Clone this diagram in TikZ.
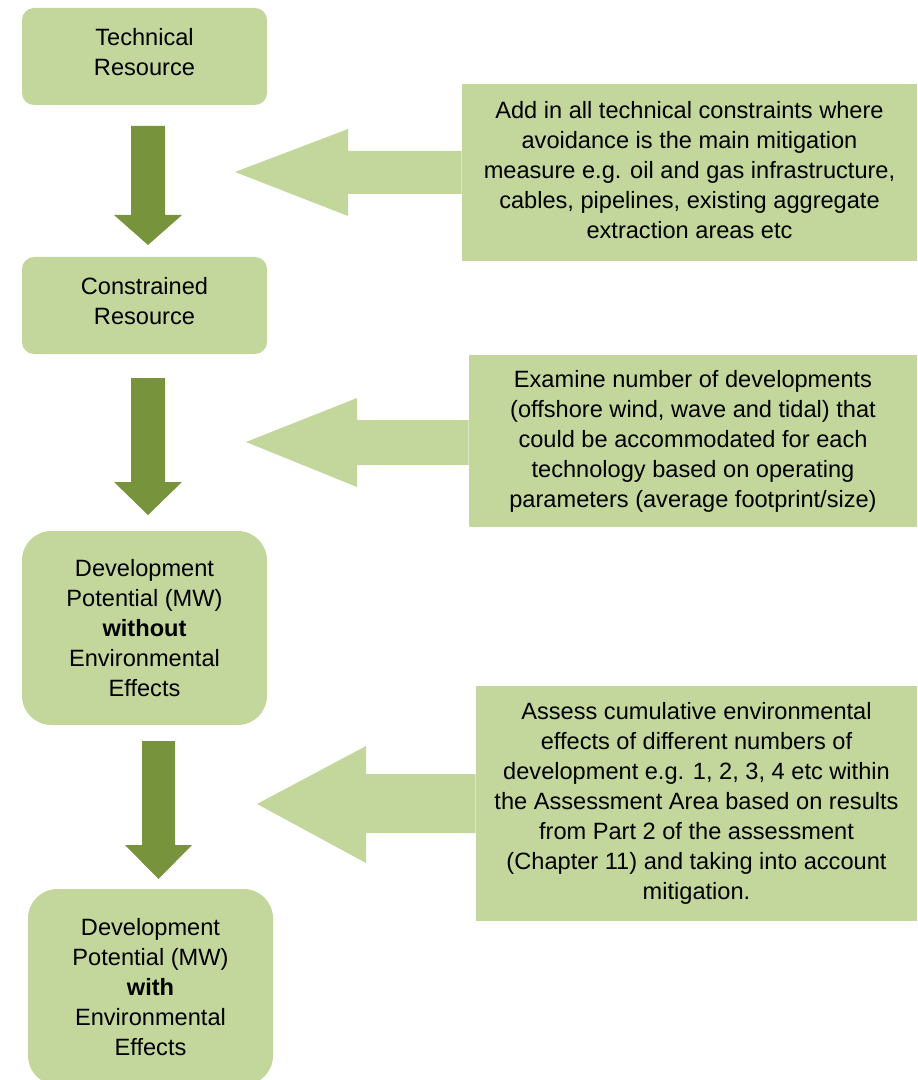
\documentclass[tikz,border=0pt]{standalone}
\usepackage{fontspec}
\setmainfont{Liberation Sans}
\definecolor{lightg}{HTML}{C3D69B}
\definecolor{darkg}{HTML}{77933C}
\tikzset{
  stagebox/.style={fill=lightg, draw=none, rounded corners=#1, align=center, inner sep=0pt},
  notebox/.style={fill=lightg, draw=none, align=center, inner sep=0pt},
  boxtext/.style={align=center, inner sep=0pt},
  downarrow/.style={fill=darkg, draw=none},
  leftarrow/.style={fill=lightg, draw=none}
}
\begin{document}
\begin{tikzpicture}[x=0.75pt,y=-0.75pt, font=\fontsize{17.7}{22.5}\selectfont]
\useasboundingbox (0,0) rectangle (917,1080);
\clip (0,0) rectangle (917,1080);
% left stage boxes
\node[stagebox=9pt, minimum width=183.75pt, minimum height=72.75pt] (tr) at (144.5,56.5) {};
\node[boxtext] (trtext) at ([yshift=3.4pt]tr.center) {Technical\\Resource};
\node[stagebox=9pt, minimum width=183.75pt, minimum height=72.75pt] (cr) at (144.5,305.5) {};
\node[boxtext] (crtext) at ([yshift=3pt]cr.center) {Constrained\\Resource};
\node[stagebox=22pt, minimum width=183.75pt, minimum height=145.5pt] (dpwo) at (144.5,628) {Development\\Potential (MW)\\\textbf{without}\\Environmental\\Effects};
\node[stagebox=22pt, minimum width=183.75pt, minimum height=147pt] (dpw) at (150.5,987) {Development\\Potential (MW)\\\textbf{with}\\Environmental\\Effects};
% right note boxes
\node[notebox, minimum width=341.25pt, minimum height=132.75pt] (na) at (689.5,172.5) {};
\node[boxtext] (natext) at ([yshift=1.9pt]na.center) {Add in all technical constraints where\\avoidance is the main mitigation\\measure e.g. oil and gas infrastructure,\\cables, pipelines, existing aggregate\\extraction areas etc};
\node[notebox, minimum width=336pt, minimum height=129pt] (nb) at (693,441) {Examine number of developments\\(offshore wind, wave and tidal) that\\could be accommodated for each\\technology based on operating\\parameters (average footprint/size)};
\node[notebox, minimum width=330.75pt, minimum height=176.25pt] (nc) at (696.5,803.5) {Assess cumulative environmental\\effects of different numbers of\\development e.g. 1, 2, 3, 4 etc within\\the Assessment Area based on results\\from Part 2 of the assessment\\(Chapter 11) and taking into account\\mitigation.};
% down arrows
\fill[downarrow] (131,126) -- (165,126) -- (165,215) -- (182,215) -- (148,245) -- (114,215) -- (131,215) -- cycle;
\fill[downarrow] (131,378) -- (165,378) -- (165,482) -- (182,482) -- (148,515) -- (114,482) -- (131,482) -- cycle;
\fill[downarrow] (142,741) -- (175,741) -- (175,845) -- (192,845) -- (158.5,879) -- (125,845) -- (142,845) -- cycle;
% left arrows
\fill[leftarrow] (na.west |- 0,151) -- (348,151) -- (348,129) -- (235,172) -- (348,216) -- (348,194) -- (na.west |- 0,194) -- cycle;
\fill[leftarrow] (nb.west |- 0,420) -- (357,420) -- (357,398) -- (246,442) -- (357,487) -- (357,465) -- (nb.west |- 0,465) -- cycle;
\fill[leftarrow] (nc.west |- 0,774) -- (366,774) -- (366,746) -- (257,804) -- (366,863) -- (366,833) -- (nc.west |- 0,833) -- cycle;
\end{tikzpicture}
\end{document}
